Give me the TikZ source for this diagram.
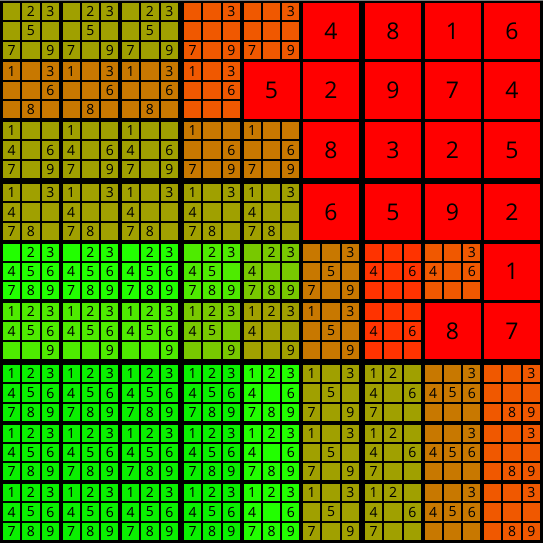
\documentclass[tikz,border=0pt]{standalone}
\usepackage{fontspec}
\setmainfont{Open Sans}
\definecolor{solved}{RGB}{255,0,0}
\definecolor{two}{RGB}{255,51,0}
\definecolor{three}{RGB}{240,88,0}
\definecolor{four}{RGB}{200,120,0}
\definecolor{five}{RGB}{160,160,0}
\definecolor{six}{RGB}{120,200,0}
\definecolor{seven}{RGB}{78,235,0}
\definecolor{eight}{RGB}{34,255,0}
\definecolor{nine}{RGB}{10,240,0}
\tikzset{note/.style={font=\fontsize{14}{14}\selectfont, inner sep=0pt},
  given/.style={font=\fontsize{23}{23}\selectfont, inner sep=0pt}}

\newcommand{\cellpos}[1]{3+181*int(#1/3)+59.5*mod(#1,3)}
\newcommand{\bigcell}[3]{%
  \pgfmathsetmacro{\cx}{\cellpos{#1}}
  \pgfmathsetmacro{\cy}{\cellpos{#2}}
  \fill[solved] (\cx,\cy) rectangle ++(56,56);
  \node[given] (s#1#2) at (\cx+28,\cy+28) {#3};
}
\newcommand{\notecell}[4]{%
  \pgfmathsetmacro{\cx}{\cellpos{#1}}
  \pgfmathsetmacro{\cy}{\cellpos{#2}}
  \foreach \k in {0,...,8}
    \fill[#3] ({\cx+19.33*mod(\k,3)},{\cy+19.33*int(\k/3)}) rectangle ++(17.33,17.33);
  \foreach \d in {#4}
    \node[note] (n#1#2\d) at ({\cx+19.33*mod(\d-1,3)+8.67},{\cy+19.33*int((\d-1)/3)+8.67}) {\d};
}

\begin{document}
\begin{tikzpicture}[x=1pt,y=-1pt]
  \fill[black] (0,0) rectangle (543,543);
  \fill[gray] (0,0) rectangle (543,1.2);

  \foreach \c in {0,1,2} \notecell{\c}{0}{five}{2,3,5,7,9};
  \foreach \c in {3,4} \notecell{\c}{0}{three}{3,7,9};
  \bigcell{5}{0}{4}
  \bigcell{6}{0}{8}
  \bigcell{7}{0}{1}
  \bigcell{8}{0}{6}

  \foreach \c in {0,1,2} \notecell{\c}{1}{four}{1,3,6,8};
  \notecell{3}{1}{three}{1,3,6}
  \bigcell{4}{1}{5}
  \bigcell{5}{1}{2}
  \bigcell{6}{1}{9}
  \bigcell{7}{1}{7}
  \bigcell{8}{1}{4}

  \foreach \c in {0,1,2} \notecell{\c}{2}{five}{1,4,6,7,9};
  \foreach \c in {3,4} \notecell{\c}{2}{four}{1,6,7,9};
  \bigcell{5}{2}{8}
  \bigcell{6}{2}{3}
  \bigcell{7}{2}{2}
  \bigcell{8}{2}{5}

  \foreach \c in {0,...,4} \notecell{\c}{3}{five}{1,3,4,7,8};
  \bigcell{5}{3}{6}
  \bigcell{6}{3}{5}
  \bigcell{7}{3}{9}
  \bigcell{8}{3}{2}

  \foreach \c in {0,1,2} \notecell{\c}{4}{eight}{2,3,4,5,6,7,8,9};
  \notecell{3}{4}{seven}{2,3,4,5,7,8,9}
  \notecell{4}{4}{six}{2,3,4,7,8,9}
  \notecell{5}{4}{four}{3,5,7,9}
  \notecell{6}{4}{two}{4,6}
  \notecell{7}{4}{three}{3,4,6}
  \bigcell{8}{4}{1}

  \foreach \c in {0,1,2} \notecell{\c}{5}{seven}{1,2,3,4,5,6,9};
  \notecell{3}{5}{six}{1,2,3,4,5,9}
  \notecell{4}{5}{five}{1,2,3,4,9}
  \notecell{5}{5}{four}{1,3,5,9}
  \notecell{6}{5}{two}{4,6}
  \bigcell{7}{5}{8}
  \bigcell{8}{5}{7}

  \foreach \r in {6,7,8} {
    \foreach \c in {0,...,3} \notecell{\c}{\r}{nine}{1,2,3,4,5,6,7,8,9};
    \notecell{4}{\r}{eight}{1,2,3,4,6,7,8,9}
    \notecell{5}{\r}{five}{1,3,5,7,9}
    \notecell{6}{\r}{five}{1,2,4,6,7}
    \notecell{7}{\r}{four}{3,4,5,6}
    \notecell{8}{\r}{three}{3,8,9}
  }
\end{tikzpicture}
\end{document}
